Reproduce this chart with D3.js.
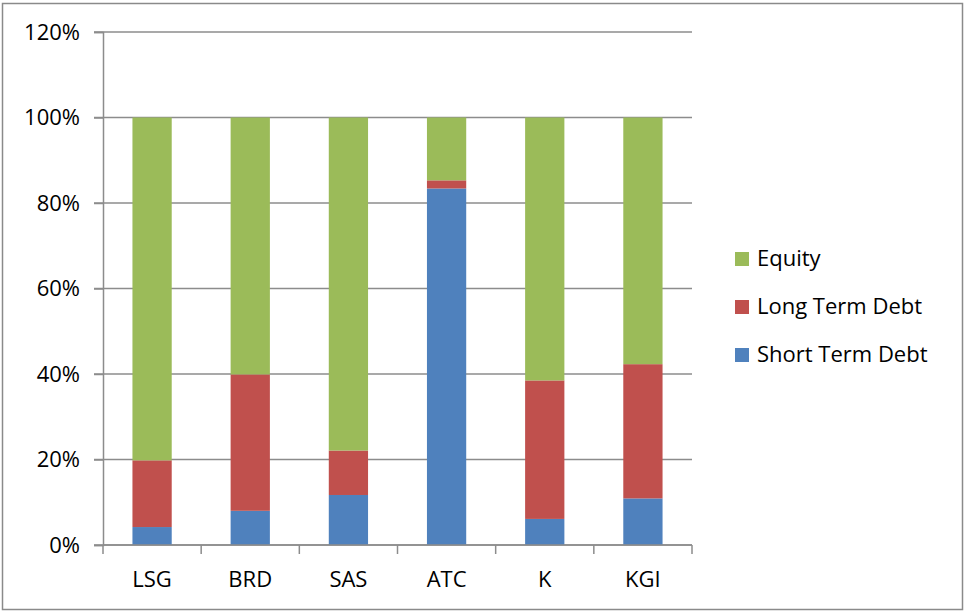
<!DOCTYPE html>
<html>
<head>
<meta charset="utf-8">
<script src="https://cdn.jsdelivr.net/npm/d3@7"></script>
<style>
  html, body { margin: 0; padding: 0; background: #fff; }
  svg text { font-family: "Open Sans", "Liberation Sans", sans-serif; fill: #000; }
</style>
</head>
<body>
<div id="chart"></div>
<script>
// companies on the x axis
const companies = ['LSG', 'BRD', 'SAS', 'ATC', 'K', 'KGI'];
// share of capital, in percent
const shortTermDebt = [4.2, 8.0, 11.7, 83.4, 6.1, 10.9];
const longTermDebt = [15.6, 31.9, 10.4, 1.9, 32.4, 31.4];
const equity = [80.2, 60.1, 77.9, 14.7, 61.5, 57.7];
const yTicks = [0, 20, 40, 60, 80, 100, 120];

const seriesNames = ['Short Term Debt', 'Long Term Debt', 'Equity'];
const seriesColors = ['#4F81BD', '#C0504D', '#9BBB59'];

const width = 965, height = 612;
const margin = { left: 103, top: 32, right: 273, bottom: 67 };
const fontSize = 22;

const svg = d3.select('#chart').append('svg')
  .attr('width', width)
  .attr('height', height);

// outer chart border
svg.append('rect')
  .attr('x', 2.5).attr('y', 3.5)
  .attr('width', 960).attr('height', 606)
  .attr('fill', '#fff')
  .attr('stroke', '#8a8a8a')
  .attr('stroke-width', 1.5);

const x = d3.scaleBand()
  .domain(companies)
  .range([margin.left, width - margin.right])
  .paddingInner(0.6)
  .paddingOuter(0.3);

const y = d3.scaleLinear()
  .domain([0, 120])
  .range([height - margin.bottom, margin.top]);

// build the stack table from the arrays
const table = companies.map((c, i) => ({
  company: c,
  'Short Term Debt': shortTermDebt[i],
  'Long Term Debt': longTermDebt[i],
  'Equity': equity[i]
}));
const stacked = d3.stack().keys(seriesNames)(table);

// gridlines
svg.append('g')
  .selectAll('line')
  .data(yTicks)
  .enter().append('line')
  .attr('x1', margin.left - 9)
  .attr('x2', width - margin.right)
  .attr('y1', d => y(d))
  .attr('y2', d => y(d))
  .attr('stroke', '#8c8c8c')
  .attr('stroke-width', 1.5);

// bars
svg.append('g')
  .selectAll('g')
  .data(stacked)
  .enter().append('g')
  .attr('fill', (d, i) => seriesColors[i])
  .selectAll('rect')
  .data(d => d)
  .enter().append('rect')
  .attr('x', d => x(d.data.company))
  .attr('width', x.bandwidth())
  .attr('y', d => y(d[1]))
  .attr('height', d => y(d[0]) - y(d[1]));

// y axis
const yAxis = svg.append('g')
  .attr('transform', `translate(${margin.left},0)`)
  .call(d3.axisLeft(y).tickValues(yTicks).tickFormat(d => d + '%').tickSize(9).tickPadding(14));
yAxis.selectAll('line, path').attr('stroke', '#8c8c8c').attr('stroke-width', 1.5);
yAxis.selectAll('text').attr('font-size', fontSize).style('font-family', '"Open Sans", sans-serif');

// x axis: ticks sit between categories
const xAxisY = y(0);
const xg = svg.append('g');
xg.append('line')
  .attr('x1', margin.left).attr('x2', width - margin.right)
  .attr('y1', xAxisY).attr('y2', xAxisY)
  .attr('stroke', '#8c8c8c').attr('stroke-width', 1.5);
xg.selectAll('line.tick')
  .data(d3.range(companies.length + 1))
  .enter().append('line')
  .attr('class', 'tick')
  .attr('x1', i => margin.left + i * x.step())
  .attr('x2', i => margin.left + i * x.step())
  .attr('y1', xAxisY).attr('y2', xAxisY + 9)
  .attr('stroke', '#8c8c8c').attr('stroke-width', 1.5);
xg.selectAll('text')
  .data(companies)
  .enter().append('text')
  .attr('x', d => x(d) + x.bandwidth() / 2)
  .attr('y', xAxisY + 42)
  .attr('text-anchor', 'middle')
  .attr('font-size', fontSize)
  .text(d => d);

// legend, equity on top
const legendItems = seriesNames.map((n, i) => ({ name: n, color: seriesColors[i] })).reverse();
const legend = svg.append('g')
  .selectAll('g')
  .data(legendItems)
  .enter().append('g')
  .attr('transform', (d, i) => `translate(735,${252 + i * 48})`);
legend.append('rect')
  .attr('width', 14).attr('height', 14)
  .attr('fill', d => d.color);
legend.append('text')
  .attr('x', 22).attr('y', 14)
  .attr('font-size', fontSize)
  .text(d => d.name);
</script>
</body>
</html>
